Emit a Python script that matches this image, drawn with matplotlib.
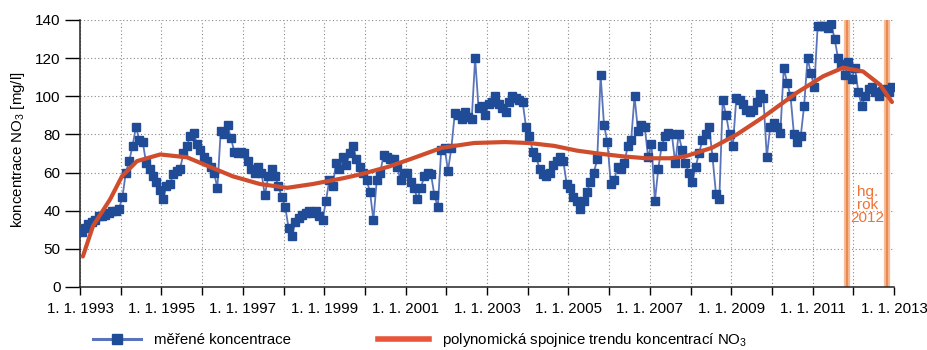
import numpy as np
import matplotlib
matplotlib.use("Agg")
import matplotlib.pyplot as plt
from matplotlib.lines import Line2D

plt.rcParams['font.family'] = ['Liberation Sans', 'DejaVu Sans']
plt.rcParams['mathtext.fontset'] = 'custom'
plt.rcParams['mathtext.rm'] = 'Liberation Sans'
plt.rcParams['mathtext.it'] = 'Liberation Sans:italic'

# ---------------- data ----------------
start_year = 1993
# monthly measured NO3 concentration [mg/l], Jan 1993 .. Dec 2012
nitrate = [
    29, 31, 33, 34, 35, 37, 37, 38, 39, 40, 40, 41,      # 1993
    47, 60, 66, 74, 84, 77, 76, 65, 62, 58, 55, 51,      # 1994
    46, 53, 54, 59, 61, 62, 70, 74, 79, 81, 75, 72,      # 1995
    68, 66, 63, 60, 52, 82, 80, 85, 78, 71, 70, 71,      # 1996
    70, 66, 62, 60, 63, 60, 48, 58, 62, 58, 53, 47,      # 1997
    42, 31, 27, 34, 36, 38, 39, 40, 39, 40, 37, 35,      # 1998
    45, 56, 53, 65, 62, 68, 64, 70, 74, 67, 63, 60,      # 1999
    56, 50, 35, 56, 60, 69, 68, 67, 67, 63, 56, 60,      # 2000
    60, 55, 52, 46, 52, 58, 60, 59, 48, 42, 72, 73,      # 2001
    61, 73, 91, 90, 88, 92, 89, 88, 120, 94, 95, 90,     # 2002
    96, 97, 100, 96, 94, 92, 97, 100, 99, 98, 97, 84,    # 2003
    79, 71, 68, 62, 59, 58, 60, 64, 66, 68, 66, 54,      # 2004
    52, 47, 45, 41, 45, 50, 55, 60, 67, 111, 85, 76,     # 2005
    54, 56, 63, 62, 65, 74, 77, 100, 82, 85, 84, 68,     # 2006
    75, 45, 62, 74, 79, 81, 80, 65, 80, 72, 65, 60,      # 2007
    55, 63, 70, 77, 80, 84, 68, 49, 46, 98, 90, 80,      # 2008
    74, 99, 98, 96, 93, 92, 93, 97, 101, 99, 68, 84,     # 2009
    86, 84, 81, 115, 107, 100, 80, 76, 79, 95, 120, 112, # 2010
    105, 137, 137, 137, 136, 138, 130, 120, 117, 111, 118, 109,  # 2011
    115, 102, 95, 100, 104, 105, 102, 100, 103, 104, 102, 105,   # 2012
]

# polynomial trend line (decimal year, mg/l)
trend_year = [1993.07, 1993.32, 1993.74, 1994.03, 1994.40, 1994.97, 1995.63,
              1996.19, 1996.76, 1997.42, 1998.09, 1998.72, 1999.46, 1999.88,
              2000.57, 2001.11, 2001.89, 2002.68, 2003.44, 2004.03, 2004.65,
              2005.21, 2005.73, 2006.34, 2006.91, 2007.50, 2007.87, 2008.53,
              2009.14, 2009.78, 2010.62, 2011.26, 2011.75, 2012.24, 2012.66,
              2012.95]
trend_value = [16, 32, 46, 58, 66, 69.5, 68, 63, 58, 54, 52, 54, 57, 59, 63,
               67, 73, 75.5, 76, 75.5, 74, 71.5, 70, 68.5, 67.5, 67.5, 68.5,
               73, 80, 89, 102, 110.5, 115, 113, 106, 97]

# hydrological year 2012 (1 Nov 2011 - 31 Oct 2012)
hydro_start = 2011 + 10 / 12
hydro_end = 2012 + 10 / 12
hydro_label = "hg.\nrok\n2012"

y_ticks = [0, 20, 40, 60, 80, 100, 120, 140]
y_tick_labels = ["0", "50", "40", "60", "80", "100", "120", "140"]
x_years = list(range(1993, 2014))

legend_measured = "měřené koncentrace"
legend_trend = "polynomická spojnice trendu koncentrací NO$_\\mathrm{3}$"
y_label = "koncentrace NO$_\\mathrm{3}$ [mg/l]"

# ---------------- plot ----------------
W, H = 928, 350
fig = plt.figure(figsize=(W / 100, H / 100), dpi=100)
ax = fig.add_axes([80 / W, 1 - 287 / H, (894 - 80) / W, (287 - 20) / H])

months = np.arange(len(nitrate))
x_meas = start_year + (months + 0.5) / 12

blue_line = '#5a74bb'
blue_mark = '#1f4b97'
red = '#cf4d2c'
orange_light = '#f6bd98'
orange_dark = '#ea8a52'

# hydrological-year boundary lines
for xv in (hydro_start, hydro_end):
    ax.axvline(xv, color=orange_light, lw=4.5, zorder=1)
    ax.axvline(xv, color=orange_dark, lw=1.6, zorder=1.1)

ax.plot(x_meas, nitrate, color=blue_line, lw=1.3, marker='s', ms=5.6,
        mfc=blue_mark, mec=blue_mark, zorder=3)
ax.plot(trend_year, trend_value, color=red, lw=3, solid_capstyle='round',
        solid_joinstyle='round', zorder=4)

ax.text((hydro_start + hydro_end) / 2 + 0.02, 43, hydro_label, color='#f07236',
        fontsize=11, ha='center', va='center', linespacing=0.95, zorder=5)

ax.set_xlim(1993, 2013)
ax.set_ylim(0, 140)
ax.set_yticks(y_ticks)
ax.set_yticklabels(y_tick_labels)
ax.set_xticks(x_years)
ax.set_xticklabels([f"1. 1. {y}" if (y - 1993) % 2 == 0 else "" for y in x_years])

ax.tick_params(axis='y', length=11, width=1, labelsize=11, pad=3)
ax.tick_params(axis='x', length=6, width=1, labelsize=10.8, pad=5)

ax.grid(True, color='#888888', linestyle=(0, (1, 2.2)), lw=0.8)
ax.set_axisbelow(True)
for s in ('top', 'right'):
    ax.spines[s].set_visible(False)
for s in ('left', 'bottom'):
    ax.spines[s].set_linewidth(1.1)
    ax.spines[s].set_color('#222222')

fig.text(18 / W, 1 - 150 / H, y_label, rotation=90, ha='center', va='center',
         fontsize=10.8)

h1 = Line2D([], [], color=blue_line, lw=2.2, marker='s', ms=6.5,
            mfc=blue_mark, mec=blue_mark)
h2 = Line2D([], [], color='#e8553a', lw=4)
leg1 = fig.legend([h1], [legend_measured], loc='center left',
                  bbox_to_anchor=(93 / W, 1 - 340 / H), frameon=False,
                  fontsize=10.8, handlelength=3.2, handletextpad=0.9,
                  numpoints=1, borderaxespad=0, borderpad=0)
leg2 = fig.legend([h2], [legend_trend], loc='center left',
                  bbox_to_anchor=(378 / W, 1 - 340 / H), frameon=False,
                  fontsize=10.8, handlelength=3.4, handletextpad=0.9,
                  borderaxespad=0, borderpad=0)

fig.savefig("out.png", dpi=100)
